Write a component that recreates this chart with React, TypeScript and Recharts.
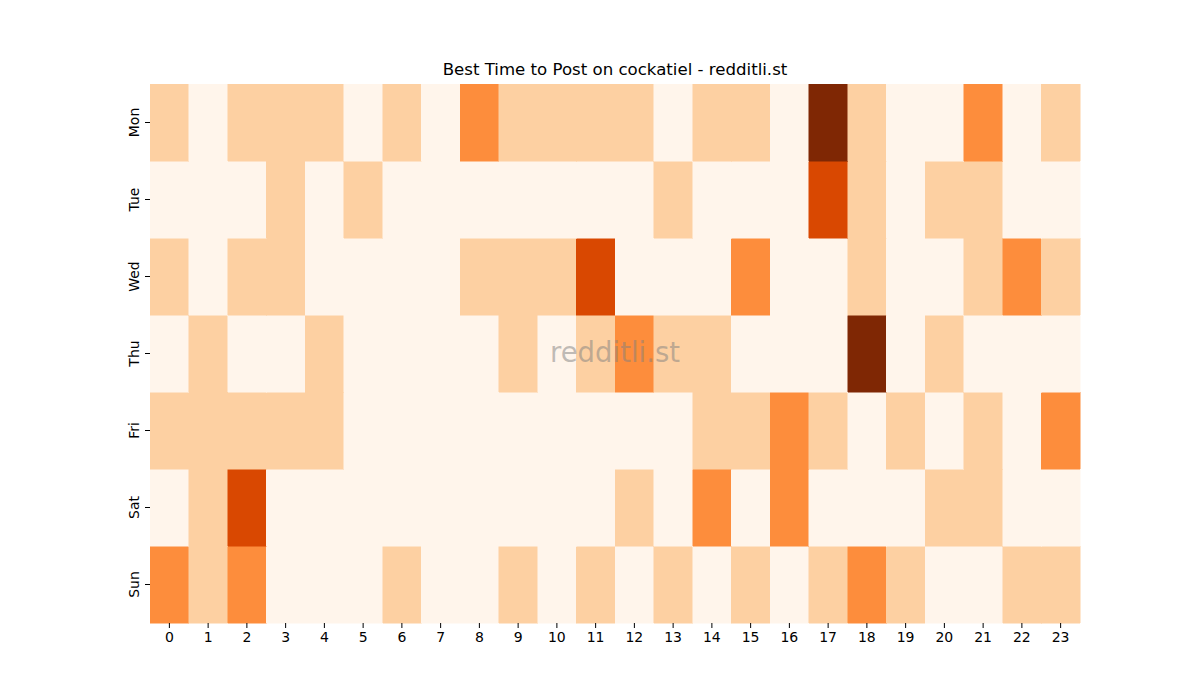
import { BarChart, Bar, Cell, XAxis, YAxis } from 'recharts'

// hours on the x axis
const HOURS = Array.from({ length: 24 }, (_, i) => String(i))

// intensity level per hour (0 = lightest, 4 = darkest)
const MON = [1, 0, 1, 1, 1, 0, 1, 0, 2, 1, 1, 1, 1, 0, 1, 1, 0, 4, 1, 0, 0, 2, 0, 1]
const TUE = [0, 0, 0, 1, 0, 1, 0, 0, 0, 0, 0, 0, 0, 1, 0, 0, 0, 3, 1, 0, 1, 1, 0, 0]
const WED = [1, 0, 1, 1, 0, 0, 0, 0, 1, 1, 1, 3, 0, 0, 0, 2, 0, 0, 1, 0, 0, 1, 2, 1]
const THU = [0, 1, 0, 0, 1, 0, 0, 0, 0, 1, 0, 1, 2, 1, 1, 0, 0, 0, 4, 0, 1, 0, 0, 0]
const FRI = [1, 1, 1, 1, 1, 0, 0, 0, 0, 0, 0, 0, 0, 0, 1, 1, 2, 1, 0, 1, 0, 1, 0, 2]
const SAT = [0, 1, 3, 0, 0, 0, 0, 0, 0, 0, 0, 0, 1, 0, 2, 0, 2, 0, 0, 0, 1, 1, 0, 0]
const SUN = [2, 1, 2, 0, 0, 0, 1, 0, 0, 1, 0, 1, 0, 1, 0, 1, 0, 1, 2, 1, 0, 0, 1, 1]

// bottom to top in the stack
const DAYS = ['Sun', 'Sat', 'Fri', 'Thu', 'Wed', 'Tue', 'Mon']
const LEVELS: Record<string, number[]> = {
  Mon: MON, Tue: TUE, Wed: WED, Thu: THU, Fri: FRI, Sat: SAT, Sun: SUN,
}

const PALETTE = ['#fff5eb', '#fdd0a2', '#fd8d3c', '#d94801', '#7f2704']

const rows = HOURS.map((h) => {
  const row: Record<string, string | number> = { hour: h }
  DAYS.forEach((d) => { row[d] = 1 })
  return row
})

const DayTick = ({ x, y, payload }: any) => {
  const label = DAYS[Math.floor(payload.value)]
  const tx = x - 4
  return (
    <text
      x={tx}
      y={y}
      textAnchor="middle"
      fontSize={14}
      fill="#000"
      transform={`rotate(-90, ${tx}, ${y})`}
    >
      {label}
    </text>
  )
}

export default function App() {
  return (
    <div style={{ position: 'absolute', left: 0, top: 0, width: 1200, height: 700, background: '#fff', fontFamily: '"DejaVu Sans", sans-serif' }}>
      <div style={{ position: 'absolute', left: 150, top: 60, width: 930, textAlign: 'center', fontSize: 16.6, color: '#000' }}>
        Best Time to Post on cockatiel - redditli.st
      </div>
      <BarChart
        width={1200}
        height={700}
        data={rows}
        margin={{ top: 84, right: 120, left: 100, bottom: 37 }}
        barCategoryGap={0}
        barGap={0}
      >
        <XAxis
          dataKey="hour"
          type="category"
          axisLine={false}
          tickLine={{ stroke: '#000' }}
          tickSize={5}
          height={40}
          tick={{ fontSize: 14, fill: '#000', dy: 2 }}
          interval={0}
        />
        <YAxis
          type="number"
          domain={[0, 7]}
          ticks={[0.5, 1.5, 2.5, 3.5, 4.5, 5.5, 6.5]}
          axisLine={false}
          tickLine={{ stroke: '#000' }}
          tickSize={5}
          width={50}
          tick={<DayTick />}
        />
        {DAYS.map((d) => (
          <Bar key={d} dataKey={d} stackId="days" isAnimationActive={false} shapeRendering="crispEdges">
            {LEVELS[d].map((lv, i) => (
              <Cell key={i} fill={PALETTE[lv]} stroke={PALETTE[lv]} strokeWidth={0.5} />
            ))}
          </Bar>
        ))}
      </BarChart>
      <div style={{ position: 'absolute', left: 150, top: 336, width: 930, textAlign: 'center', fontSize: 27.5, color: 'rgba(128,128,128,0.5)', pointerEvents: 'none' }}>
        redditli.st
      </div>
    </div>
  )
}
